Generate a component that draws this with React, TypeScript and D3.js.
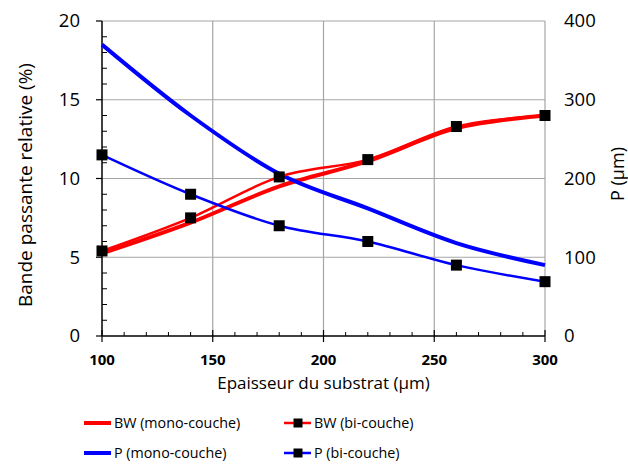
import React from "react";
import * as d3 from "d3";

const xValues = [100, 140, 180, 220, 260, 300];
const bwMono = [5.25, 7.2, 9.5, 11.1, 13.2, 14.0];
const bwBi = [5.4, 7.5, 10.1, 11.2, 13.3, 14.0];
const pMono = [370, 280, 206, 162, 118, 90];
const pBi = [230, 180, 140, 120, 90, 69];

const xTicks = [100, 150, 200, 250, 300];
const yLeftTicks = [0, 5, 10, 15, 20];
const yRightTicks = [0, 100, 200, 300, 400];

const W = 628, H = 467;
const M = { left: 102, right: 545, top: 21, bottom: 336 };
const FONT = "'Open Sans', 'Liberation Sans', sans-serif";
const RED = "#ff0000";
const BLUE = "#0000ff";
const GRID = "#a6a6a6";

export default function App() {
  const x = d3.scaleLinear().domain([100, 300]).range([M.left, M.right]);
  const yL = d3.scaleLinear().domain([0, 20]).range([M.bottom, M.top]);
  const yR = d3.scaleLinear().domain([0, 400]).range([M.bottom, M.top]);

  const lineL = d3.line<number>().x((_, i) => x(xValues[i])).y((d) => yL(d)).curve(d3.curveCardinal.tension(0));
  const lineR = d3.line<number>().x((_, i) => x(xValues[i])).y((d) => yR(d)).curve(d3.curveCardinal.tension(0));

  const minorY = d3.range(0, 21, 1).filter((v) => v % 5 !== 0);
  const minorX = d3.range(100, 301, 10).filter((v) => v % 50 !== 0);
  const ms = 11;

  const legendItems = [
    { label: "BW (mono-couche)", color: RED, marker: false, w: 4, x: 84, y: 423 },
    { label: "BW (bi-couche)", color: RED, marker: true, w: 2.5, x: 284, y: 423 },
    { label: "P (mono-couche)", color: BLUE, marker: false, w: 4, x: 84, y: 453 },
    { label: "P (bi-couche)", color: BLUE, marker: true, w: 2.5, x: 284, y: 453 },
  ];

  return (
    <svg width={W} height={H} style={{ position: "absolute", left: 0, top: 0, background: "#fff" }} fontFamily={FONT}>
      <rect x={0} y={0} width={W} height={H} fill="#fff" />
      {/* gridlines */}
      {yLeftTicks.filter((v) => v > 0).map((v) => (
        <line key={"gy" + v} x1={M.left} x2={M.right} y1={yL(v)} y2={yL(v)} stroke={GRID} strokeWidth={1.2} />
      ))}
      {xTicks.filter((v) => v > 100).map((v) => (
        <line key={"gx" + v} x1={x(v)} x2={x(v)} y1={M.top} y2={M.bottom} stroke={GRID} strokeWidth={1.2} />
      ))}
      {/* axes */}
      <line x1={M.left} x2={M.left} y1={M.top} y2={M.bottom} stroke="#000" strokeWidth={1.5} />
      <line x1={M.left} x2={M.right} y1={M.bottom} y2={M.bottom} stroke="#000" strokeWidth={1.5} />
      {yLeftTicks.map((v) => (
        <line key={"ty" + v} x1={M.left - 6} x2={M.left} y1={yL(v)} y2={yL(v)} stroke="#000" strokeWidth={1.2} />
      ))}
      {minorY.map((v) => (
        <line key={"my" + v} x1={M.left} x2={M.left + 5} y1={yL(v)} y2={yL(v)} stroke="#000" strokeWidth={1} />
      ))}
      {xTicks.map((v) => (
        <line key={"tx" + v} x1={x(v)} x2={x(v)} y1={M.bottom - 6} y2={M.bottom + 6} stroke="#000" strokeWidth={1.2} />
      ))}
      {minorX.map((v) => (
        <line key={"mx" + v} x1={x(v)} x2={x(v)} y1={M.bottom - 4} y2={M.bottom} stroke="#000" strokeWidth={1} />
      ))}
      {/* tick labels */}
      {yLeftTicks.map((v) => (
        <text key={"ly" + v} x={80} y={yL(v)} dy="0.35em" textAnchor="end" fontSize={18.5} fill="#000">{v}</text>
      ))}
      {yRightTicks.map((v) => (
        <text key={"ry" + v} x={564} y={yR(v)} dy="0.35em" textAnchor="start" fontSize={18.5} fill="#000">{v}</text>
      ))}
      {xTicks.map((v) => (
        <text key={"lx" + v} x={x(v)} y={365} textAnchor="middle" fontSize={15} fontWeight="bold" fill="#000">{v}</text>
      ))}
      {/* axis titles */}
      <text x={x(200)} y={389} textAnchor="middle" fontSize={17} fill="#000">Epaisseur du substrat (µm)</text>
      <text transform={`translate(32,185) rotate(-90)`} textAnchor="middle" fontSize={19} fill="#000">Bande passante relative (%)</text>
      <text transform={`translate(624,174) rotate(-90)`} textAnchor="middle" fontSize={18} fill="#000">P (µm)</text>
      {/* series */}
      <path d={lineL(bwMono) || ""} fill="none" stroke={RED} strokeWidth={4} />
      <path d={lineR(pMono) || ""} fill="none" stroke={BLUE} strokeWidth={4} />
      <path d={lineL(bwBi) || ""} fill="none" stroke={RED} strokeWidth={2.5} />
      <path d={lineR(pBi) || ""} fill="none" stroke={BLUE} strokeWidth={2.5} />
      {bwBi.map((v, i) => (
        <rect key={"mb" + i} x={x(xValues[i]) - ms / 2} y={yL(v) - ms / 2} width={ms} height={ms} fill="#000" />
      ))}
      {pBi.map((v, i) => (
        <rect key={"mp" + i} x={x(xValues[i]) - ms / 2} y={yR(v) - ms / 2} width={ms} height={ms} fill="#000" />
      ))}
      {/* legend */}
      {legendItems.map((it) => (
        <g key={it.label}>
          <line x1={it.x} x2={it.x + 27} y1={it.y} y2={it.y} stroke={it.color} strokeWidth={it.w} />
          {it.marker && <rect x={it.x + 14 - 4.5} y={it.y - 4.5} width={9} height={9} fill="#000" />}
          <text x={it.x + 30} y={it.y} dy="0.35em" fontSize={14.3} fill="#000">{it.label}</text>
        </g>
      ))}
    </svg>
  );
}
